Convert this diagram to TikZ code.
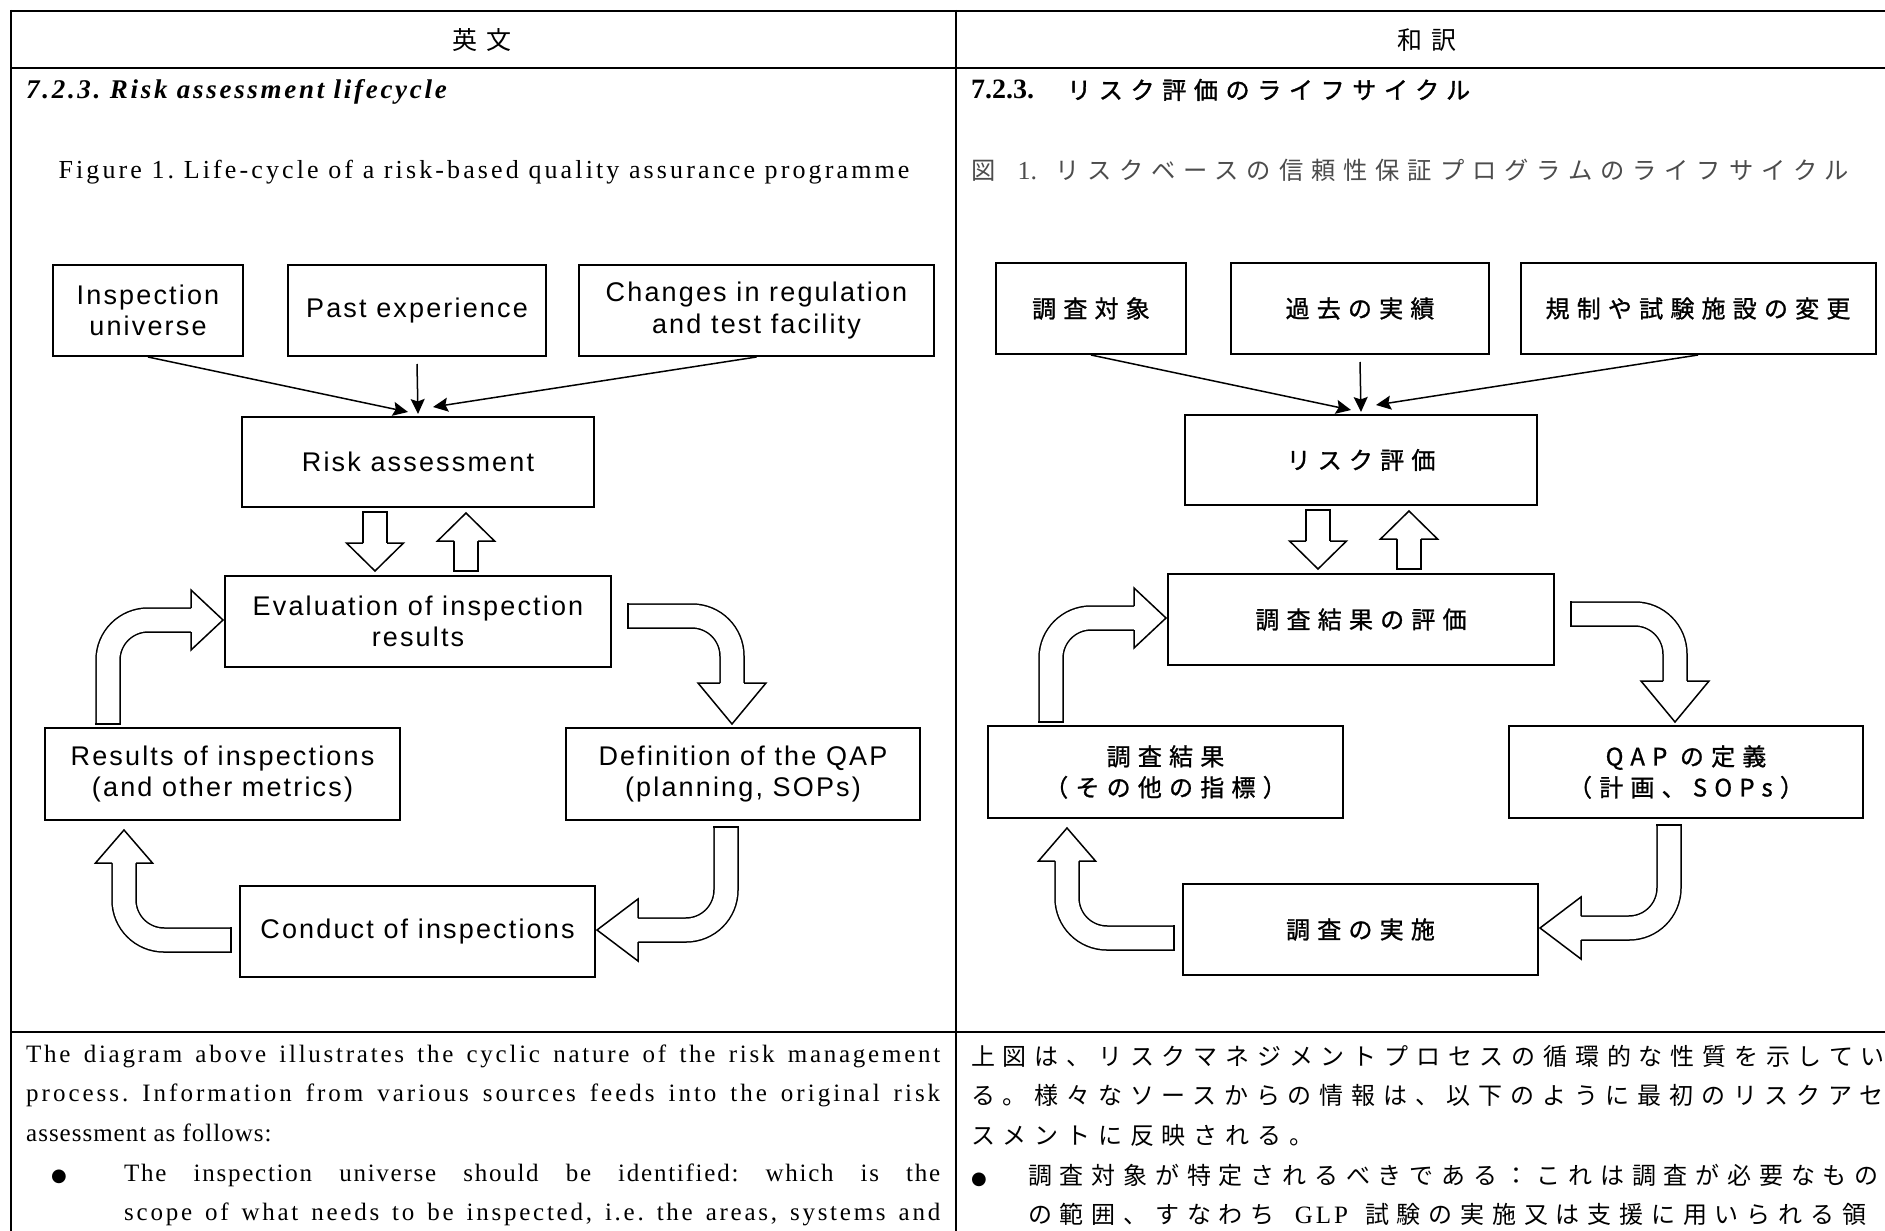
\documentclass[tikz,border=0pt]{standalone}
\usepackage{fontspec}
\usetikzlibrary{arrows.meta,calc}
\setmainfont{Liberation Serif}
\newfontfamily\bodyfont{Liberation Serif}[LetterSpace=4]
\newfontfamily\headfont{Liberation Serif}[LetterSpace=10]
\newfontfamily\capfont{Liberation Serif}[LetterSpace=12]
\newfontfamily\boxfont{Liberation Sans}[LetterSpace=8]
\newfontfamily\jpfont{Noto Sans CJK JP}[LetterSpace=32.5]
\newfontfamily\jpbox{Noto Sans CJK JP}[LetterSpace=30,FakeBold=1]
\newfontfamily\jptitle{Noto Sans CJK JP}[LetterSpace=32,FakeBold=1.5]
\newfontfamily\dotfont{DejaVu Sans}
\frenchspacing

\tikzset{
  rule/.style={line width=2pt},
  box/.style={draw,line width=2pt,inner sep=0pt,minimum height=91pt,align=center,font=\boxfont\fontsize{27}{31.5}\selectfont},
  jbox/.style={box,font=\jpbox\fontsize{24}{31}\selectfont},
  feed/.style={line width=1.5pt,-{Stealth[length=15pt,width=14pt,inset=2.5pt]}},
  shaft/.style={line width=1.5pt,double=white,double distance=22.5pt,rounded corners=40pt},
  shaftend/.style={line width=1.5pt},
  arrowhd/.style={line width=1.5pt,fill=white},
  para/.style={anchor=base west,inner sep=0pt,font=\bodyfont\fontsize{25}{29}\selectfont},
  jpara/.style={anchor=base west,inner sep=0pt,font=\jpfont\fontsize{24}{29}\selectfont},
  bulletmark/.style={anchor=base west,inner sep=0pt,font=\dotfont\fontsize{18}{22}\selectfont},
}

\begin{document}
\begin{tikzpicture}[x=1pt,y=-1pt]
\useasboundingbox (0,0) rectangle (1885,1231);
\fill[white] (0,0) rectangle (1885,1231);
\clip (0,0) rectangle (1885,1231);
\draw[rule] (11,11) -- (1900,11);
\draw[rule] (11,68) -- (1900,68);
\draw[rule] (11,1032) -- (1900,1032);
\draw[rule] (11,10) -- (11,1240);
\draw[rule] (956,10) -- (956,1240);

\node[font=\jpfont\fontsize{25}{30}\selectfont] (hen) at (482,40) {英文};
\node[font=\jpfont\fontsize{25}{30}\selectfont] (hja) at (1427,40) {和訳};
\node[para,font=\headfont\bfseries\itshape\fontsize{27}{31}\selectfont] (hl) at (26,98) {7.2.3. Risk assessment lifecycle};
\node[para,anchor=base,font=\capfont\fontsize{26}{30}\selectfont] (cl) at (484,178) {Figure 1. Life-cycle of a risk-based quality assurance programme};
\node[para] (hr) at (971,99) {{\rmfamily\bfseries\fontsize{28}{31}\selectfont 7.2.3.}\hspace{33pt}{\jptitle\fontsize{24}{29}\selectfont リスク評価のライフサイクル}};
\node[jpara,text=black!70,font=\jpfont\fontsize{24.3}{29}\selectfont] (cr) at (971,179) {図\hspace{22pt}{\rmfamily\fontsize{26}{30}\selectfont 1.}\hspace{18pt}リスクベースの信頼性保証プログラムのライフサイクル};

\node[box,minimum width=190pt] (iu) at (148,310.5) {Inspection\\universe};
\node[box,minimum width=258pt] (pe) at (417,310.5) {Past experience};
\node[box,minimum width=355pt] (ch) at (756.5,310.5) {Changes in regulation\\and test facility};
\node[box,minimum width=352pt,minimum height=90pt] (ra) at (418,462) {Risk assessment};
\node[box,minimum width=386pt] (ev) at (418,621.5) {Evaluation of inspection\\results};
\node[box,minimum width=355pt,minimum height=92pt] (rs) at (222.5,774) {Results of inspections\\(and other metrics)};
\node[box,minimum width=354pt,minimum height=92pt] (df) at (743,774) {Definition of the QAP\\(planning, SOPs)};
\node[box,minimum width=355pt] (co) at (417.5,931.5) {Conduct of inspections};

\draw[feed] (iu.south) -- ($(ra.north)+(-10,-4)$);
\draw[feed] ($(pe.south)+(0,7)$) -- ($(ra.north)+(0,-2)$);
\draw[feed] (ch.south) -- ($(ra.north)+(15,-9)$);

\draw[shaft] ($(ra.south)+(-43,4)$) -- ($(ev.north)+(-43,-32)$);
\draw[shaftend] ($(ra.south)+(-55.75,4)$) -- ++(25.5,0);
\filldraw[arrowhd] ($(ev.north)+(-43,-4)$) ++(-12,-28) -- ++(-16.5,0) -- ++(28.5,28) -- ++(28.5,-28) -- ++(-16.5,0);
\draw[shaft] ($(ev.north)+(48,-4)$) -- ($(ra.south)+(48,33)$);
\draw[shaftend] ($(ev.north)+(35.25,-4)$) -- ++(25.5,0);
\filldraw[arrowhd] ($(ra.south)+(48,5)$) ++(-12,28) -- ++(-16.5,0) -- ++(28.5,-28) -- ++(28.5,28) -- ++(-16.5,0);

\draw[shaft] ($(rs.north west)+(64,-3)$) |- ($(ev.west)+(-33,-1.5)$);
\draw[shaftend] ($(rs.north west)+(51.25,-3)$) -- ++(25.5,0);
\filldraw[arrowhd] ($(ev.west)+(-1,-1.5)$) ++(-32,-12) -- ++(0,-18) -- ++(32,30) -- ++(-32,30) -- ++(0,-18);
\draw[shaft] ($(ev.east)+(16,-5.5)$) -| ($(df.north)+(-11,-44)$);
\draw[shaftend] ($(ev.east)+(16,-18.25)$) -- ++(0,25.5);
\filldraw[arrowhd] ($(df.north)+(-11,-3)$) ++(-12,-41) -- ++(-22,0) -- ++(34,41) -- ++(34,-41) -- ++(-22,0);
\draw[shaft] ($(df.south)+(-17,6)$) |- ($(co.east)+(42,-1.5)$);
\draw[shaftend] ($(df.south)+(-29.75,6)$) -- ++(25.5,0);
\filldraw[arrowhd] ($(co.east)+(1,-1.5)$) ++(41,-12) -- ++(0,-19) -- ++(-41,31) -- ++(41,31) -- ++(0,-19);
\draw[shaft] ($(co.west)+(-8,8.5)$) -| ($(rs.south)+(-98.5,42)$);
\draw[shaftend] ($(co.west)+(-8,-4.25)$) -- ++(0,25.5);
\filldraw[arrowhd] ($(rs.south)+(-98.5,9)$) ++(-12,33) -- ++(-16.5,0) -- ++(28.5,-33) -- ++(28.5,33) -- ++(-16.5,0);

\node[jbox,minimum width=190pt] (jiu) at (1091,308.5) {調査対象};
\node[jbox,minimum width=258pt] (jpe) at (1360,308.5) {過去の実績};
\node[jbox,minimum width=355pt] (jch) at (1698,308.5) {規制や試験施設の変更};
\node[jbox,minimum width=352pt,minimum height=90pt] (jra) at (1361,460) {リスク評価};
\node[jbox,minimum width=386pt] (jev) at (1361,619.5) {調査結果の評価};
\node[jbox,minimum width=355pt,minimum height=92pt] (jrs) at (1165.5,772) {調査結果\\（その他の指標）};
\node[jbox,minimum width=354pt,minimum height=92pt] (jdf) at (1686,772) {QAP の定義\\（計画、SOPs）};
\node[jbox,minimum width=355pt] (jco) at (1360.5,929.5) {調査の実施};

\draw[feed] (jiu.south) -- ($(jra.north)+(-10,-4)$);
\draw[feed] ($(jpe.south)+(0,7)$) -- ($(jra.north)+(0,-2)$);
\draw[feed] (jch.south) -- ($(jra.north)+(15,-9)$);

\draw[shaft] ($(jra.south)+(-43,4)$) -- ($(jev.north)+(-43,-32)$);
\draw[shaftend] ($(jra.south)+(-55.75,4)$) -- ++(25.5,0);
\filldraw[arrowhd] ($(jev.north)+(-43,-4)$) ++(-12,-28) -- ++(-16.5,0) -- ++(28.5,28) -- ++(28.5,-28) -- ++(-16.5,0);
\draw[shaft] ($(jev.north)+(48,-4)$) -- ($(jra.south)+(48,33)$);
\draw[shaftend] ($(jev.north)+(35.25,-4)$) -- ++(25.5,0);
\filldraw[arrowhd] ($(jra.south)+(48,5)$) ++(-12,28) -- ++(-16.5,0) -- ++(28.5,-28) -- ++(28.5,28) -- ++(-16.5,0);

\draw[shaft] ($(jrs.north west)+(64,-3)$) |- ($(jev.west)+(-33,-1.5)$);
\draw[shaftend] ($(jrs.north west)+(51.25,-3)$) -- ++(25.5,0);
\filldraw[arrowhd] ($(jev.west)+(-1,-1.5)$) ++(-32,-12) -- ++(0,-18) -- ++(32,30) -- ++(-32,30) -- ++(0,-18);
\draw[shaft] ($(jev.east)+(16,-5.5)$) -| ($(jdf.north)+(-11,-44)$);
\draw[shaftend] ($(jev.east)+(16,-18.25)$) -- ++(0,25.5);
\filldraw[arrowhd] ($(jdf.north)+(-11,-3)$) ++(-12,-41) -- ++(-22,0) -- ++(34,41) -- ++(34,-41) -- ++(-22,0);
\draw[shaft] ($(jdf.south)+(-17,6)$) |- ($(jco.east)+(42,-1.5)$);
\draw[shaftend] ($(jdf.south)+(-29.75,6)$) -- ++(25.5,0);
\filldraw[arrowhd] ($(jco.east)+(1,-1.5)$) ++(41,-12) -- ++(0,-19) -- ++(-41,31) -- ++(41,31) -- ++(0,-19);
\draw[shaft] ($(jco.west)+(-8,8.5)$) -| ($(jrs.south)+(-98.5,42)$);
\draw[shaftend] ($(jco.west)+(-8,-4.25)$) -- ++(0,25.5);
\filldraw[arrowhd] ($(jrs.south)+(-98.5,9)$) ++(-12,33) -- ++(-16.5,0) -- ++(28.5,-33) -- ++(28.5,33) -- ++(-16.5,0);

\node[para] (l1) at (26,1062) {\addfontfeatures{LetterSpace=11}\makebox[914pt][s]{The diagram above illustrates the cyclic nature of the risk management}};
\node[para] (l2) at (26,1101) {\addfontfeatures{LetterSpace=12}\makebox[914pt][s]{process. Information from various sources feeds into the original risk}};
\node[para] (l3) at (26,1141) {assessment as follows:};
\node[bulletmark] (lb) at (51,1181) {●};
\node[para] (l4) at (124,1181) {\addfontfeatures{LetterSpace=7}\makebox[816pt][s]{The inspection universe should be identified: which is the}};
\node[para] (l5) at (124,1220) {\addfontfeatures{LetterSpace=11}\makebox[816pt][s]{scope of what needs to be inspected, i.e. the areas, systems and}};

\node[jpara] (r1) at (971,1065) {上図は、リスクマネジメントプロセスの循環的な性質を示してい};
\node[jpara] (r2) at (971,1104) {る。様々なソースからの情報は、以下のように最初のリスクアセ};
\node[jpara] (r3) at (971,1144) {スメントに反映される。};
\node[bulletmark] (rb) at (971,1184) {●};
\node[jpara] (r4) at (1028,1184) {調査対象が特定されるべきである：これは調査が必要なもの};
\node[jpara] (r5) at (1028,1223) {の範囲、すなわち\hspace{20pt}{\capfont\fontsize{25}{29}\selectfont GLP}\hspace{17pt}試験の実施又は支援に用いられる領};
\end{tikzpicture}
\end{document}
